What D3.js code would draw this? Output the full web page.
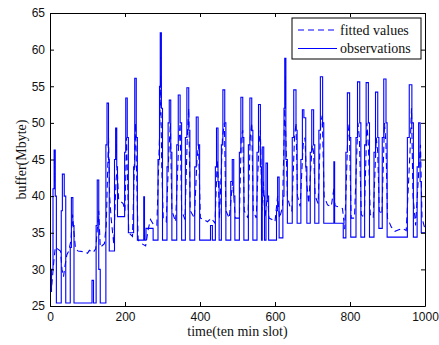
<!DOCTYPE html>
<meta charset="utf-8">
<style>
body { margin: 0; background: #fff; }
.axis text { font-family: "Liberation Sans", Arial, sans-serif; font-size: 12px; fill: #111; }
.axis path, .axis line { stroke: #000; }
.label, .legend text { font-family: "Liberation Serif", "Times New Roman", serif; font-size: 14px; fill: #111; }
.obs { fill: none; stroke: #0000ff; stroke-width: 1.1; }
.fit { fill: none; stroke: #0000ff; stroke-width: 1.1; stroke-dasharray: 6,4; }
</style>
<svg width="439" height="345"></svg>
<script src="https://d3js.org/d3.v7.min.js"></script>
<script>

// observations: step breakpoints (value holds until the next time)
var obsTime = [0,4,8,11,14,17, 30,33,38,42, 54,57,61,64, 112,116, 123,126,130,134,
  149,152,156,158, 172,175,178,180, 199,202,206,209, 223,226,230,233, 250,252,256,275,
  288,292,294,297,300, 312,315,318,322,325, 338,342,347,351, 361,365,370,373,
  386,390,395,399, 428,433, 441,444,448,451, 457,461,466,469, 482,486,490,493,
  505,509,514,517, 529,533,538,541, 552,556,561,564, 566,570,572, 576,580,583,
  604,607,611, 621,624,626,629,633, 646,650,656,659, 669,673,677,682,685,
  694,698,703,706, 717,721,727,730, 757,759,782, 789,793,799,802, 816,820,826,829,
  839,843,849,852, 864,868,874,877, 886,890,896,899, 953,958,965,969, 979,983,987,990,1000];
var obsValue = [27,30,41,46.3,40,25.4, 38,43,40,25.4, 33,39.8,36,25.4, 28.5,25.4, 36,42.2,30,25.4,
  47,52.7,45,32.5, 45,49.3,44,37.2, 46,53.4,48,35, 44,56.1,48,34, 39.9,34,35.6,34,
  45,55,62.3,52,34, 44,50,53.1,46,34, 47,53.8,50,34, 48,54.8,49,34,
  44,50.8,47,34, 36,34, 44,49.3,42,34, 47,54.5,50,34, 42,45,40,34,
  46,53.5,48,34, 47,53.4,49,34, 46,52.5,44,34, 46.7,40,34, 44.5,40,34,
  38,42.6,34.3, 40,52,58.8,45,36.3, 48,54.5,49,36.3, 45,51.8,50.7,44,36.3,
  46,51.8,47,36.3, 49,56.3,50,36.3, 44.7,36.3,34.3, 46,54.1,48,34.4, 48,55.6,50,34.4,
  47,55.5,50,34.4, 46,54.2,48,35.6, 48,56,50,34.4, 48,55.2,50,34.4, 44,50,42,35,35];

// fitted values
var fitTime = [0,5,10,14,20,28,32,36,40,45,50,56,60,64,68,75,90,100,105,115,122,127,130,134,145,150,153,156,159,163,170,176,179,183,195,200,204,207,210,220,228,231,235,245,255,262,268,275,285,292,295,298,302,310,317,321,325,335,343,347,351,360,366,370,374,385,392,396,401,410,420,430,440,446,449,452,460,465,469,478,487,490,494,505,510,514,518,528,534,538,542,550,557,561,565,569,573,580,584,592,600,607,612,620,626,629,633,640,645,652,656,660,667,675,680,684,690,699,703,707,715,722,726,731,740,750,757,760,770,780,786,794,798,803,812,821,825,830,838,845,849,854,862,870,874,878,885,892,896,900,910,920,930,940,950,960,964,968,975,984,988,992,1000];
var fitValue = [26.5,28,31,33,32.8,32.5,30,29,30.5,32,32.5,34,37.5,35,32.8,32.5,32.4,32.2,32.6,32.3,32.8,36,38,33,33.5,36,42,48,40,37,33.5,42,44,39.5,39,38,48,42,35,34.5,50,43,34,33.5,33.2,35.5,36.8,36.2,36,48,56,44,37,36.5,46,50,38,36.5,47,50,38,36.8,48,52,38,37,45,47,37,36.8,36.5,37,36.3,45,42,37,48,50,38,37,42,40,37,37,48,49,38,37,48,50,38,37,47,49,38,42,37,40,37,36.8,36.5,40,37,38.5,52,48,40,38.5,38,48,50,40,38.6,47,48,42,39,47,46,40,39,50,51,40,38.8,38.6,41,38.7,38.5,38.3,35.5,48,50,37,37,50,48,37.5,37,50,47,37.5,37,48,46,38,37.5,50,47,37,35.8,35.2,35.4,35.6,35.3,46,52,40,36,44,47,37,35.5];

var xTicks = [0, 200, 400, 600, 800, 1000];
var yTicks = [25, 30, 35, 40, 45, 50, 55, 60, 65];
var seriesNames = ["fitted values", "observations"];

var svg = d3.select("svg"),
    margin = {top: 13, right: 14, bottom: 39, left: 50},
    width = +svg.attr("width") - margin.left - margin.right,
    height = +svg.attr("height") - margin.top - margin.bottom;

var x = d3.scaleLinear().domain([0, 1000]).range([0, width]),
    y = d3.scaleLinear().domain([25, 65]).range([height, 0]);

var g = svg.append("g")
    .attr("transform", "translate(" + margin.left + "," + margin.top + ")");

g.append("clipPath").attr("id", "clip")
  .append("rect").attr("width", width).attr("height", height);

var obs = obsTime.map(function(t, i) { return [t, obsValue[i]]; });
var fit = fitTime.map(function(t, i) { return [t, fitValue[i]]; });

var stepLine = d3.line()
    .x(function(d) { return x(d[0]); })
    .y(function(d) { return y(d[1]); })
    .curve(d3.curveStepAfter);

var line = d3.line()
    .x(function(d) { return x(d[0]); })
    .y(function(d) { return y(d[1]); });

var plot = g.append("g").attr("clip-path", "url(#clip)");
plot.append("path").datum(obs).attr("class", "obs").attr("d", stepLine);
plot.append("path").datum(fit).attr("class", "fit").attr("d", line);

// axes, MATLAB style ticks pointing inward
g.append("g")
    .attr("class", "axis")
    .attr("transform", "translate(0," + height + ")")
    .call(d3.axisBottom(x).tickValues(xTicks).tickFormat(d3.format("d"))
      .tickSizeInner(-4).tickSizeOuter(0).tickPadding(6));
g.append("g")
    .attr("class", "axis")
    .call(d3.axisTop(x).tickValues(xTicks).tickSizeInner(-4).tickSizeOuter(0).tickFormat(""));
g.append("g")
    .attr("class", "axis")
    .call(d3.axisLeft(y).tickValues(yTicks).tickSizeInner(-4).tickSizeOuter(0).tickPadding(5));
g.append("g")
    .attr("class", "axis")
    .attr("transform", "translate(" + width + ",0)")
    .call(d3.axisRight(y).tickValues(yTicks).tickSizeInner(-4).tickSizeOuter(0).tickFormat(""));

svg.append("text")
    .attr("class", "label")
    .attr("x", margin.left + width / 2)
    .attr("y", 336)
    .attr("text-anchor", "middle")
    .text("time(ten min slot)");

svg.append("text")
    .attr("class", "label")
    .attr("transform", "translate(26," + (margin.top + height / 2) + ") rotate(-90)")
    .attr("text-anchor", "middle")
    .text("buffer(Mbyte)");

// legend
var legend = svg.append("g").attr("class", "legend");
legend.append("rect")
    .attr("x", 292).attr("y", 18)
    .attr("width", 129).attr("height", 41)
    .attr("fill", "#fff").attr("stroke", "#000");

seriesNames.forEach(function(name, i) {
  var yy = 30 + i * 18.5;
  legend.append("line")
      .attr("class", i === 0 ? "fit" : "obs")
      .attr("x1", 298).attr("x2", 337)
      .attr("y1", yy).attr("y2", yy);
  legend.append("text")
      .attr("x", 340).attr("y", yy + 4.5)
      .text(name);
});

</script>
